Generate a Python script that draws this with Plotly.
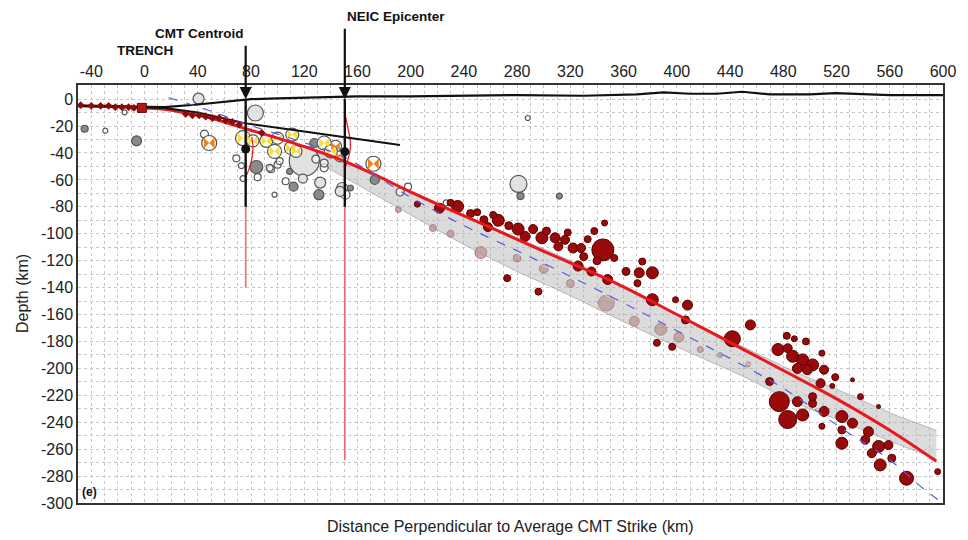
import plotly.graph_objects as go

# ---------------- data ----------------
# surface (topography) line
surf_x = [-50, -20, 0, 15, 40, 60, 80, 100, 130, 160, 200, 240, 280, 330, 370, 390, 410, 430, 449, 470, 500, 519, 540, 560, 600]
surf_d = [-5, -5.5, -6, -6, -4, -2, 0, 0.5, 1.5, 2, 2, 2.5, 3, 2.5, 3.5, 5, 4, 4, 5.5, 3.5, 3.5, 4.5, 3.5, 3, 3]

# upper plate interface (black)
iface_x = [-50, -20, 0, 15, 40, 76, 120, 150, 192]
iface_d = [-5, -5.5, -6, -6.5, -10, -18, -24, -28, -34]

# slab model (red)
slab_x = [-50, -20, 0, 15, 30, 45, 60, 76, 100, 125, 150, 175, 200, 250, 300, 355, 400, 452, 500, 526, 560, 595]
slab_d = [-5, -5.5, -6.5, -7.5, -10, -13, -17, -22, -29, -37, -46, -57, -69, -91, -113, -137, -160, -187, -212, -226, -246, -269]

# alternative slab model (blue dashed)
alt_x = [18, 35, 53, 75, 100, 125, 150, 200, 236, 300, 355, 400, 452, 482, 526, 560, 586, 600]
alt_d = [1, -4, -10, -18, -26, -34, -43, -73, -92, -122, -149, -172, -199, -216, -246, -268, -290, -300]

# ensemble of slab models (grey band)
band_x = [105, 130, 150, 175, 200, 240, 280, 320, 353, 400, 452, 490, 526, 560, 595]
band_top = [-33, -40, -47, -58, -68, -86, -103, -120, -137, -160, -185, -203, -218, -233, -246]
band_mid = [-34, -43, -52, -65, -77, -97, -115, -133, -149, -172, -196, -214, -229, -243, -256]
band_bot = [-35, -47, -58, -72, -86, -108, -128, -146, -162, -184, -207, -226, -240, -254, -267]

# trench-region markers
tm_x = [-48, -40, -33, -27, -22, -17, -12, -8, 31, 36, 41, 46, 51, 56, 61, 66, 71, 88]
tm_d = [-4.5, -5, -5, -5, -6, -6, -6, -6.5, -11, -12, -12, -13, -14, -14, -16, -17, -19, -25]
trench_x = [-2]
trench_d = [-6.5]

# upper plate seismicity: kind 0 = open, 1 = light grey, 2 = dark grey
up_x = [-45, -29.5, -6, -15, 40.6, 83.3, 84, 120, 69, 72.8, 74, 85, 100, 106, 112, 119, 131, 132, 97.7, 135, 127.5,
        148.5, 154.7, 151, 173, 192, 281, 282.5, 311.7, 288, 198, 226.6, 45, 95, 109, 128.7, 94, 101.5, 135, 147]
up_d = [-22, -23.4, -31, -9.8, 0.4, -10.3, -50.4, -46, -44, -49.4, -59, -58, -48.7, -61, -65, -59, -71, -62, -71, -51, -32.6,
        -66, -66, -71, -60, -69, -63, -72, -72, -14, -65, -77, -26, -52, -53.7, -44.5, -51, -46, -47.5, -68.5]
up_s = [7, 5, 10, 5, 11, 16, 13, 30, 7, 6, 6, 7, 7, 7, 9, 9, 10, 11, 5, 8, 9,
        11, 6, 9, 9, 8, 17, 7, 6, 5, 7, 6, 8, 7, 6, 8, 7, 7, 8, 10]
up_k = [2, 0, 2, 0, 1, 1, 2, 1, 0, 0, 0, 0, 0, 0, 2, 1, 2, 1, 0, 0, 2,
        1, 2, 0, 2, 0, 1, 2, 2, 0, 0, 0, 0, 0, 2, 0, 0, 0, 0, 1]

# focal mechanisms
bb_x = [48.6, 172, 143.5, 147, 74, 81.5, 91.5, 97.7, 100, 111, 110, 113.8, 135, 140]
bb_d = [-32.6, -48, -35, -42.5, -29, -31, -31, -38.8, -29, -26.4, -36.3, -38.8, -32.6, -38.8]
bb_s = [15, 15, 12, 11, 15, 12, 13, 14, 12, 13, 13, 12, 14, 13]
bb_c = ["#f0841c", "#f0841c", "#f0841c", "#f0841c", "#f7dc3a", "#f7dc3a", "#f7dc3a", "#f7dc3a",
        "#f7dc3a", "#f7dc3a", "#f7dc3a", "#f7dc3a", "#f7dc3a", "#f7dc3a"]

# slab seismicity (dark red)
eq_x = [235.3, 221.6, 245, 255, 265.8, 273.7, 280.7, 292, 286, 298.6, 308.5, 316, 311, 322, 328, 333, 345.7, 344.4,
        325.8, 335.8, 348, 272.5, 296, 361.8, 371.7, 381.6, 374, 370.4, 381.6, 399, 408, 406.5, 385, 396.5, 455.3,
        441.7, 482.6, 488.3, 497, 476, 483.3, 487, 494.5, 502, 509, 510.6, 498, 490.6, 519, 532, 516.8, 508, 469.7,
        477, 483.3, 494.5, 490.6, 502, 510.6, 524, 532, 524, 524, 538, 544, 541.6, 551.6, 559, 546.5, 561.5, 552.8,
        572.6, 596, 551.6, 509, 502, 250, 258, 262, 302, 318, 230, 205, 340, 330, 353, 338]
eq_d = [-79.7, -81, -85, -89.6, -90, -94, -96.5, -96.5, -102, -103, -103, -104.5, -109.4, -110.6, -110.6, -104, -92, -112,
        -124, -128, -134, -133, -143, -128, -129, -129, -120.6, -136.7, -149, -149, -153, -164, -181, -184, -167.7,
        -178, -175.8, -178, -180, -186, -185, -191, -193.7, -197.4, -188.7, -201, -201, -200, -206.5, -208.5, -213, -211, -209.8,
        -224.7, -238, -234.6, -224.7, -226, -232, -235.8, -240.7, -245.7, -255.6, -221, -247, -253, -258, -257, -263, -266.7, -271.7,
        -281.6, -276.7, -228.4, -243, -221, -84, -95, -86, -98, -99, -77, -78, -120, -117, -118, -98]
eq_s = [12, 10, 8, 8, 12, 8, 12, 9, 10, 12, 10, 9, 9, 10, 9, 7, 6, 22,
        10, 9, 10, 7, 7, 8, 10, 12, 7, 7, 12, 6, 10, 8, 7, 7, 10,
        16, 7, 6, 7, 12, 9, 12, 12, 12, 6, 9, 10, 10, 7, 4, 5, 9, 8,
        20, 18, 12, 10, 8, 10, 12, 10, 8, 12, 6, 10, 9, 12, 9, 9, 8, 12,
        14, 6, 4, 6, 8, 7, 9, 7, 8, 7, 7, 6, 8, 8, 7, 7]

# slab seismicity seen through the model ensemble (faded)
fe_x = [190.7, 216.7, 252.7, 347, 368, 387.9, 401.5, 417.6, 432.5, 453.6, 230, 280, 300, 320]
fe_d = [-82, -95.7, -114, -151.5, -165, -171, -176.8, -186, -190, -197, -100, -118, -126, -137]
fe_s = [6, 7, 12, 16, 10, 12, 10, 6, 5, 5, 7, 8, 9, 8]

# CMT centroid and NEIC epicenter
ev_x = [76, 150.5]
ev_d = [-37, -39]
ev_line_bottom = [-80, -80]
ev_red_bottom = [-140, -268]
ev_label = ["CMT Centroid", "NEIC Epicenter"]

# depth uncertainty curves
cmt_pdf_x = [80.5, 81.5, 80.5, 78.5, 76]
cmt_pdf_d = [-28, -35, -45, -52, -58]
neic_pdf_x = [150.5, 152.5, 154.5, 154.5, 152.5, 150.5]
neic_pdf_d = [-10, -20, -30, -38, -46, -52]

x_ticks = list(range(-40, 601, 40))
y_ticks = list(range(-300, 1, 20))

# ---------------- figure ----------------
fig = go.Figure()

FONT = "Liberation Sans, Arial, Helvetica, sans-serif"

# faded slab events
fig.add_trace(go.Scatter(x=fe_x, y=fe_d, mode="markers",
                         marker=dict(size=fe_s, opacity=1, color="rgba(185,105,105,0.6)",
                                     line=dict(color="rgba(140,60,60,0.6)", width=1))))

# grey band of slab models
fig.add_trace(go.Scatter(x=band_x, y=band_top, mode="lines", line_shape="spline",
                         line=dict(color="rgba(150,150,150,0.6)", width=1)))
fig.add_trace(go.Scatter(x=band_x, y=band_bot, mode="lines", fill="tonexty", line_shape="spline",
                         fillcolor="rgba(170,170,170,0.42)",
                         line=dict(color="rgba(150,150,150,0.6)", width=1)))
fig.add_trace(go.Scatter(x=band_x, y=band_mid, mode="lines", line_shape="spline",
                         line=dict(color="rgba(228,228,228,0.8)", width=1)))

# upper plate seismicity
fill_map = {0: "rgba(255,255,255,0.6)", 1: "#e2e2e2", 2: "#8a8a8a"}
fig.add_trace(go.Scatter(x=up_x, y=up_d, mode="markers",
                         marker=dict(size=up_s, opacity=1, color=[fill_map[k] for k in up_k],
                                     line=dict(color="#555555", width=1.2))))

# focal mechanisms (beach balls)
fig.add_trace(go.Scatter(x=bb_x, y=bb_d, mode="markers",
                         marker=dict(size=bb_s, opacity=1, color="white", line=dict(color="#555555", width=1.2))))
fig.add_trace(go.Scatter(x=bb_x, y=bb_d, mode="markers",
                         marker=dict(symbol="bowtie", size=[s * 0.72 for s in bb_s], opacity=1, color=bb_c,
                                     line=dict(width=0))))

# slab seismicity
fig.add_trace(go.Scatter(x=eq_x, y=eq_d, mode="markers",
                         marker=dict(size=eq_s, opacity=1, color="#990a0a", line=dict(color="#5c0000", width=1))))

# uncertainty curves
fig.add_trace(go.Scatter(x=cmt_pdf_x, y=cmt_pdf_d, mode="lines", line_shape="spline",
                         line=dict(color="#e8191e", width=1.2)))
fig.add_trace(go.Scatter(x=neic_pdf_x, y=neic_pdf_d, mode="lines", line_shape="spline",
                         line=dict(color="#e8191e", width=1.2)))

# slab model (red) and surface / interface (black)
fig.add_trace(go.Scatter(x=slab_x, y=slab_d, mode="lines", line_shape="spline",
                         line=dict(color="#e8191e", width=3, smoothing=1)))
fig.add_trace(go.Scatter(x=surf_x, y=surf_d, mode="lines", line=dict(color="#111111", width=2.2)))
fig.add_trace(go.Scatter(x=iface_x, y=iface_d, mode="lines", line=dict(color="#111111", width=2)))
fig.add_trace(go.Scatter(x=alt_x, y=alt_d, mode="lines", line_shape="spline",
                         line=dict(color="#5a5ae0", width=1.2, dash="dash")))

# trench markers
fig.add_trace(go.Scatter(x=tm_x, y=tm_d, mode="markers",
                         marker=dict(symbol="diamond", size=6, color="#8b0a0a", line=dict(width=0))))
fig.add_trace(go.Scatter(x=trench_x, y=trench_d, mode="markers",
                         marker=dict(symbol="square", size=9, color="#b01818", line=dict(color="#6a0000", width=1))))

# event vertical lines
for i in range(len(ev_x)):
    fig.add_trace(go.Scatter(x=[ev_x[i], ev_x[i]], y=[ev_line_bottom[i], ev_red_bottom[i]], mode="lines",
                             line=dict(color="#f06868", width=1.6)))
    fig.add_trace(go.Scatter(x=[ev_x[i], ev_x[i]], y=[0, ev_line_bottom[i]], mode="lines",
                             line=dict(color="#111111", width=2.4)))
fig.add_trace(go.Scatter(x=ev_x, y=ev_d, mode="markers",
                         marker=dict(size=9, color="#111111")))

# arrows from labels down to the surface
arrow_offsets = [-55, -72]
for i in range(len(ev_x)):
    fig.add_annotation(x=ev_x[i], y=0, xref="x", yref="y", ax=0, ay=arrow_offsets[i],
                       text="", showarrow=True, arrowhead=2, arrowsize=1.1, arrowwidth=2.2,
                       arrowcolor="#111111", standoff=0)

fig.add_annotation(x=ev_x[0], y=1.1244, xref="x", yref="paper", xanchor="right", yanchor="middle",
                   text="<b>" + ev_label[0] + "</b>", showarrow=False,
                   font=dict(family=FONT, size=13.5, color="#111111"))
fig.add_annotation(x=ev_x[1], y=1.165, xref="x", yref="paper", xanchor="left", yanchor="middle",
                   text="<b>" + ev_label[1] + "</b>", showarrow=False,
                   font=dict(family=FONT, size=13.5, color="#111111"))
fig.add_annotation(x=0, y=1.0837, xref="x", yref="paper", xanchor="center", yanchor="middle",
                   text="<b>TRENCH</b>", showarrow=False,
                   font=dict(family=FONT, size=13.5, color="#111111"))

# axis titles and panel label
fig.add_annotation(x=0.5, y=0, xref="paper", yref="paper", xanchor="center", yanchor="top", yshift=-13,
                   text="Distance Perpendicular to Average CMT Strike (km)", showarrow=False,
                   font=dict(family=FONT, size=16, color="#222222"))
fig.add_annotation(x=0, y=0.5, xref="paper", yref="paper", xanchor="center", yanchor="middle", xshift=-56,
                   textangle=-90, text="Depth (km)", showarrow=False,
                   font=dict(family=FONT, size=16, color="#222222"))
fig.add_annotation(x=0, y=0, xref="paper", yref="paper", xanchor="left", yanchor="bottom", xshift=2, yshift=2,
                   text="<b>(e)</b>", showarrow=False,
                   font=dict(family=FONT, size=12, color="#111111"))

grid_col = "#c8c8c8"
fig.update_layout(
    width=968, height=540,
    margin=dict(l=78, r=16, t=85, b=37),
    paper_bgcolor="white", plot_bgcolor="white",
    showlegend=False, hovermode=False,
    font=dict(family=FONT, color="#222222"),
    xaxis=dict(range=[-50, 600], side="top", tickvals=x_ticks, ticktext=[str(v) for v in x_ticks],
               tickfont=dict(size=16, color="#222222"), ticks="", ticklen=0,
               showgrid=True, gridcolor=grid_col, griddash="dot", gridwidth=1,
               minor=dict(dtick=10, tick0=0, showgrid=True, gridcolor=grid_col, griddash="dot", gridwidth=1),
               showline=True, linecolor="#333333", linewidth=1.5, mirror=True, zeroline=False),
    yaxis=dict(range=[-300, 10.5], tickvals=y_ticks, ticktext=[str(v) for v in y_ticks],
               tickfont=dict(size=16, color="#222222"), ticks="", ticklen=0,
               showgrid=True, gridcolor=grid_col, griddash="dot", gridwidth=1,
               minor=dict(dtick=10, tick0=0, showgrid=True, gridcolor=grid_col, griddash="dot", gridwidth=1),
               showline=True, linecolor="#333333", linewidth=1.5, mirror=True, zeroline=False),
)

fig.write_html("out.html")
